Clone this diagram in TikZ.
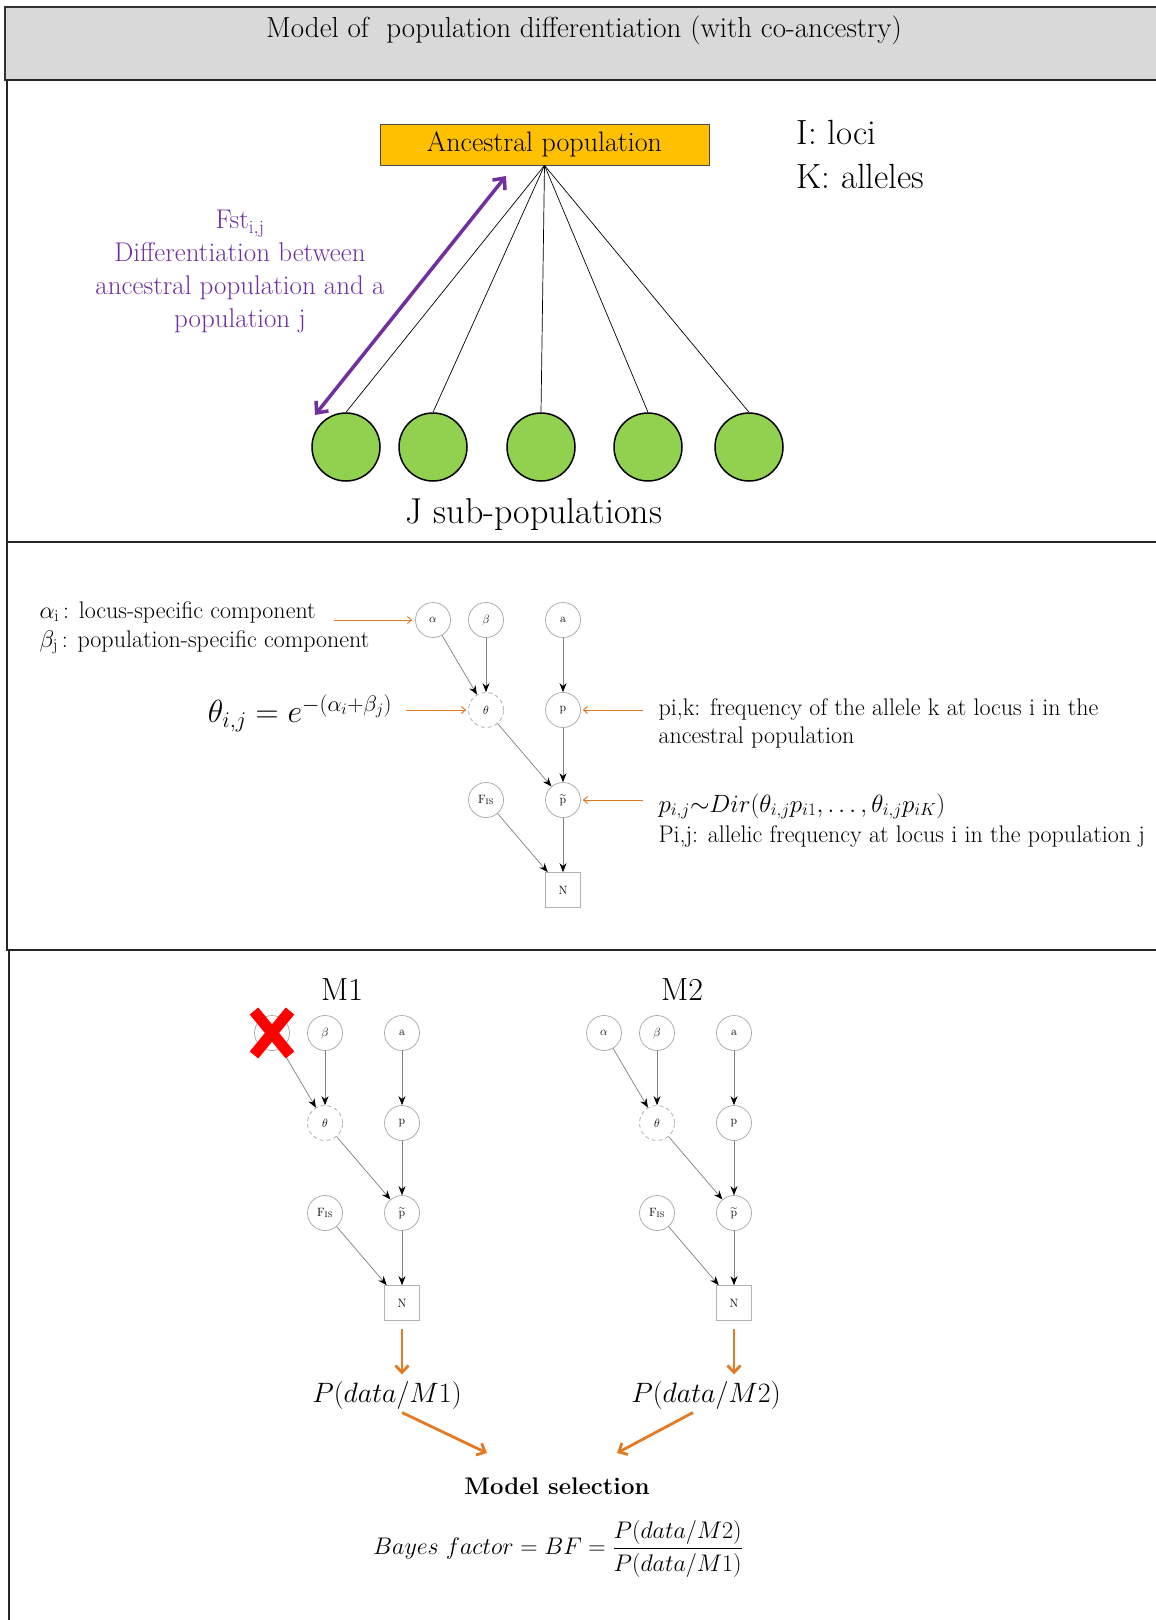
\RequirePackage{fix-cm}
\documentclass[tikz,border=0pt]{standalone}
\usepackage{amsmath}
\usepackage{fontspec}
\usetikzlibrary{arrows.meta,calc}
\definecolor{ancorange}{HTML}{FFC000}
\definecolor{popgreen}{HTML}{92D050}
\definecolor{fstpurple}{HTML}{7030A0}
\definecolor{arrorange}{HTML}{E57A25}
\definecolor{headgray}{HTML}{D9D9D9}
\tikzset{
  gnode/.style={circle,draw=gray!70,line width=0.7pt,minimum size=35pt,inner sep=0pt,font=\fontsize{12}{14}\selectfont},
  dnode/.style={gnode,dash pattern=on 4pt off 3pt},
  sqnode/.style={rectangle,draw=gray!60,line width=0.7pt,minimum size=35pt,inner sep=0pt,font=\fontsize{12}{14}\selectfont},
  gedge/.style={draw=gray,line width=0.7pt,-{Stealth[length=9pt,width=7pt,color=black]}},
  oarr/.style={draw=arrorange,line width=1pt,-{Straight Barb[length=4pt,width=7pt]}},
  bigoarr/.style={draw=arrorange,line width=2.8pt,-{Straight Barb[length=7pt,width=13pt]}},
  fstarr/.style={draw=fstpurple,line width=3.5pt,{Straight Barb[length=9pt,width=16pt]}-{Straight Barb[length=9pt,width=16pt]}},
  popc/.style={circle,draw=black,line width=1.5pt,fill=popgreen,minimum size=68pt,inner sep=0pt},
  redx/.style={draw=red,line width=11pt},
  frame/.style={draw=black!85,line width=2.5pt},
  side/.style={anchor=base west,font=\fontsize{24}{28}\selectfont},
}
\newcommand\bnet[3]{%
  \node[gnode] (#1al) at (#2,#3) {$\alpha$};
  \node[gnode] (#1be) at ({#2+53},#3) {$\beta$};
  \node[gnode] (#1aa) at ({#2+130},#3) {a};
  \node[dnode] (#1th) at ({#2+53},{#3+90}) {$\theta$};
  \node[gnode] (#1pp) at ({#2+130},{#3+90}) {p};
  \node[gnode] (#1pt) at ({#2+130},{#3+180}) {$\widetilde{\mathrm{p}}$};
  \node[gnode] (#1fi) at ({#2+53},{#3+180}) {F$_{\mathrm{IS}}$};
  \node[sqnode] (#1nn) at ({#2+130},{#3+270}) {N};
  \draw[gedge] (#1al) -- (#1th);
  \draw[gedge] (#1be) -- (#1th);
  \draw[gedge] (#1aa) -- (#1pp);
  \draw[gedge] (#1th) -- (#1pt);
  \draw[gedge] (#1pp) -- (#1pt);
  \draw[gedge] (#1pt) -- (#1nn);
  \draw[gedge] (#1fi) -- (#1nn);
}
\begin{document}
\begin{tikzpicture}[x=1pt,y=-1pt]
\useasboundingbox (0,0) rectangle (1156,1620);
\fill[white] (0,0) rectangle (1156,1620);
\clip (0,0) rectangle (1156,1620);
% frames
\draw[draw=black!80,line width=2pt,fill=headgray] (5,7) rectangle (1175,80);
\draw[frame] (7,80) rectangle (1175,542);
\draw[frame] (7,542) rectangle (1175,950);
\draw[frame] (9,950) rectangle (1175,1650);
\node[font=\fontsize{29}{33}\selectfont] (title) at (584,30) {Model of\ \ population differentiation (with co-ancestry)};

% panel 1
\node[draw=black!70,fill=ancorange,line width=0.8pt,minimum width=329pt,minimum height=41pt,inner sep=0pt,font=\fontsize{28}{32}\selectfont] (anc) at (544.5,144.5) {Ancestral population};
\node[anchor=base west,font=\fontsize{35}{40}\selectfont] (loci) at (793,144) {I: loci};
\node[anchor=base west,font=\fontsize{35}{40}\selectfont] (alle) at (793,188) {K: alleles};
\foreach \i/\x in {1/346,2/433,3/541,4/648,5/749}{
  \node[popc] (e\i) at (\x,447) {};
  \draw[line width=0.7pt] (anc.south) -- (e\i.north);
}
\coordinate (fa) at (506,176);
\coordinate (fb) at (315,415);
\draw[fstarr] (fa) -- (fb);
\node[align=center,text=fstpurple,font=\fontsize{27}{33}\selectfont] (fst) at (240,272) {Fst$_{\mathrm{i,j}}$\\Differentiation between\\ancestral population and a\\population j};
\node[font=\fontsize{36}{40}\selectfont] (jsub) at (534,515) {J sub-populations};

% panel 2
\bnet{b}{433}{620}
\node[side] (alab) at (36,618) {$\alpha_{\mathrm{i}}$\,: locus-specific component};
\node[side] (blab) at (36,647) {$\beta_{\mathrm{j}}$\,: population-specific component};
\coordinate (ao) at (334,620);
\draw[oarr,shorten >=3pt] (ao) -- (bal);
\node[font=\fontsize{32}{36}\selectfont] (thf) at (300,713) {$\theta_{i,j}=e^{-(\alpha_i+\beta_j)}$};
\coordinate (to) at (406,710);
\draw[oarr,shorten >=2pt] (to) -- (bth);
\coordinate (po) at (643,710);
\draw[oarr,shorten >=2pt] (po) -- (bpp);
\coordinate (pto) at (643,800);
\draw[oarr,shorten >=2pt] (pto) -- (bpt);
\node[side] (pik1) at (655,715) {pi,k: frequency of the allele k at locus i in the};
\node[side] (pik2) at (655,743) {ancestral population};
\node[anchor=base west,font=\fontsize{25}{28}\selectfont] (dir) at (655,812) {$p_{i,j}{\sim}Dir(\theta_{i,j}p_{i1},\dots,\theta_{i,j}p_{iK})$};
\node[side] (pij) at (655,842) {Pi,j: allelic frequency at locus i in the population j};

% panel 3
\node[anchor=base,font=\fontsize{32}{36}\selectfont] (m1) at (342,1000) {M\oldstylenums{1}};
\node[anchor=base,font=\fontsize{32}{36}\selectfont] (m2) at (682,1000) {M\oldstylenums{2}};
\bnet{c}{272}{1033}
\draw[redx] ($(cal)+(-18,-22)$) -- ($(cal)+(18,22)$);
\draw[redx] ($(cal)+(18,-22)$) -- ($(cal)+(-18,22)$);
\bnet{d}{604}{1033}
\node[anchor=base,font=\fontsize{28}{32}\selectfont] (pm1) at (387,1402) {$P(data/M1)$};
\node[anchor=base,font=\fontsize{28}{32}\selectfont] (pm2) at (706,1402) {$P(data/M2)$};
\draw[bigoarr,shorten >=3pt] ([yshift=-8pt]cnn.south) -- (cnn.south |- pm1.north);
\draw[bigoarr,shorten >=3pt] ([yshift=-8pt]dnn.south) -- (dnn.south |- pm2.north);
\node[anchor=base,font=\fontsize{24}{28}\selectfont\bfseries] (ms) at (557,1494) {Model selection};
\coordinate (ms1) at (487,1453);
\coordinate (ms2) at (617,1453);
\draw[bigoarr] ([xshift=15pt]pm1.south) -- (ms1);
\draw[bigoarr] ([xshift=-13pt]pm2.south) -- (ms2);
\node[font=\fontsize{24}{28}\selectfont] (bf) at (558,1549) {$Bayes\ factor=BF=\dfrac{P(data/M2)}{P(data/M1)}$};
\end{tikzpicture}
\end{document}
